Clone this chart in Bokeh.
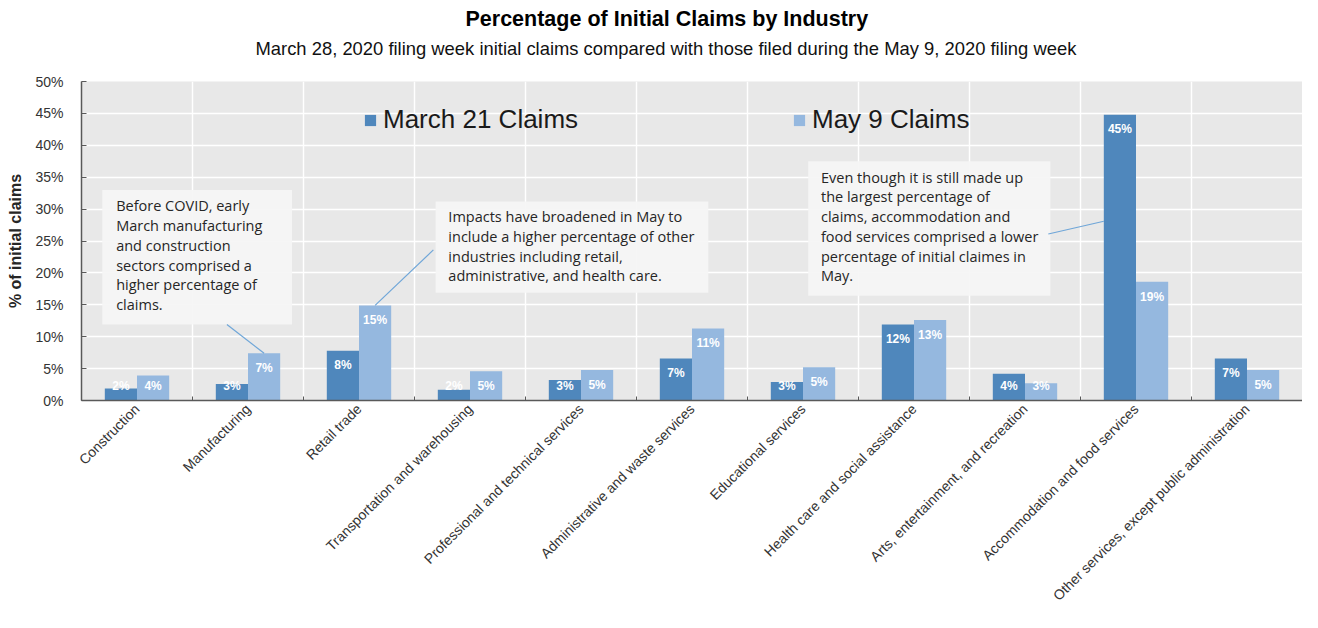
import numpy as np
from bokeh.plotting import figure
from bokeh.models import (ColumnDataSource, Range1d, FixedTicker, PrintfTickFormatter,
                          CustomJSTickFormatter, Title, Legend, LegendItem, BoxAnnotation)
from bokeh.transform import dodge
from bokeh.core.properties import value
from bokeh.embed import file_html
from bokeh.resources import INLINE

# ---------------- data ----------------
categories = [
    "Construction", "Manufacturing", "Retail trade", "Transportation and warehousing",
    "Professional and technical services", "Administrative and waste services",
    "Educational services", "Health care and social assistance",
    "Arts, entertainment, and recreation", "Accommodation and food services",
    "Other services, except public administration",
]
march21 = [1.9, 2.6, 7.8, 1.7, 3.2, 6.6, 2.9, 11.9, 4.2, 44.8, 6.6]
may9 = [3.9, 7.4, 14.9, 4.6, 4.8, 11.3, 5.2, 12.6, 2.7, 18.6, 4.8]
series = ["March 21 Claims", "May 9 Claims"]
y_ticks = [0, 5, 10, 15, 20, 25, 30, 35, 40, 45, 50]

title_text = "Percentage of Initial Claims by Industry"
subtitle_text = ("March 28, 2020 filing week initial claims compared with those filed "
                 "during the May 9, 2020 filing week")
note1 = ("Before COVID, early\nMarch manufacturing\nand construction\n"
         "sectors comprised a\nhigher percentage of\nclaims.")
note2 = ("Impacts have broadened in May to\ninclude a higher percentage of other\n"
         "industries including retail,\nadministrative, and health care.")
note3 = ("Even though it is still made up\nthe largest percentage of\n"
         "claims, accommodation and\nfood services comprised a lower\n"
         "percentage of initial claimes in\nMay.")

# ---------------- styling ----------------
C_MAR = "#4f87bc"
C_MAY = "#95b8df"
FONT = "Liberation Sans"
NOTE_FONT = "Open Sans"
BAR_W = 0.29
OFF = 0.145
LBL_DROP = 2.3  # label offset inside bar top, in % units

idx = np.arange(len(categories))
mar = np.array(march21)
may = np.array(may9)
src = ColumnDataSource(dict(
    x=idx, march=mar, may=may,
    march_lbl=[f"{v:.0f}%" for v in mar], may_lbl=[f"{v:.0f}%" for v in may],
    march_ly=np.maximum(mar - LBL_DROP, LBL_DROP), may_ly=np.maximum(may - LBL_DROP, LBL_DROP),
))

p = figure(width=1302, height=612, x_range=Range1d(-0.5, len(categories) - 0.5),
           y_range=Range1d(0, 50), output_backend="svg", toolbar_location=None,
           background_fill_color="#e8e8e8", border_fill_color="white",
           outline_line_color=None, min_border_left=81, min_border_right=0,
           min_border_top=6, min_border_bottom=0)

p.title.text = title_text
p.title.align = "left"
p.title.offset = 384
p.title.standoff = 8
p.title.text_font = FONT
p.title.text_font_size = "21.5px"
p.title.text_font_style = "bold"
p.title.text_color = "#000000"
# spacer between subtitle and plot area (added first: closest to the frame)
p.add_layout(Title(text=" ", text_font_size="1px", standoff=18), "above")
p.add_layout(Title(text=subtitle_text, align="left", offset=174, standoff=3,
                   text_font=FONT, text_font_size="18.4px", text_font_style="normal",
                   text_color="#111111"), "above")

# bars
r1 = p.vbar(x=dodge("x", -OFF), top="march", width=BAR_W, source=src,
            fill_color=C_MAR, line_color=None)
r2 = p.vbar(x=dodge("x", OFF), top="may", width=BAR_W, source=src,
            fill_color=C_MAY, line_color=None)

# bar labels
for col, ly, off in (("march_lbl", "march_ly", -OFF), ("may_lbl", "may_ly", OFF)):
    p.text(x=dodge("x", off), y=ly, text=col, source=src, text_align="center",
           text_baseline="middle", text_color="white", text_font=value(FONT),
           text_font_size="12px", text_font_style="bold")

# annotation boxes
boxes = [(-0.313, 1.397, 33.0, 11.9), (2.69, 5.147, 31.2, 16.9), (6.047, 8.229, 37.5, 16.4)]
for l, r, t, b in boxes:
    p.add_layout(BoxAnnotation(left=l, right=r, top=t, bottom=b, fill_color="#f5f5f5",
                               fill_alpha=0.92, line_color=None, level="underlay"))

notes = [(-0.188, 32.0, note1), (2.805, 30.3, note2), (6.162, 36.5, note3)]
for nx, ny, nt in notes:
    p.text(x=[nx], y=[ny], text=[nt], text_align="left", text_baseline="top",
           text_color="#262626", text_font=value(NOTE_FONT), text_font_size="14.5px",
           text_line_height=1.04)

# leader lines
p.segment(x0=[0.81, 2 + OFF, 8.21], y0=[11.9, may9[2], 26.1],
          x1=[1 + OFF, 2.67, 9 - OFF - BAR_W / 2], y1=[may9[1], 23.6, 28.1],
          line_color="#6fa6d8", line_width=1.2)

# legend
legend = Legend(items=[LegendItem(label=series[0], renderers=[r1]),
                       LegendItem(label=series[1], renderers=[r2])],
                orientation="horizontal", location=(282, 265),
                background_fill_alpha=0, border_line_alpha=0,
                label_text_font=FONT, label_text_font_size="26px",
                label_text_color="#1a1a1a", glyph_width=14, glyph_height=14,
                label_standoff=6, label_width=200, spacing=209, padding=0, margin=0)
p.add_layout(legend)

# y axis
yax = p.yaxis[0]
yax.ticker = FixedTicker(ticks=y_ticks)
yax.formatter = PrintfTickFormatter(format="%d%%")
yax.axis_label = "% of initial claims"
yax.axis_label_text_font = FONT
yax.axis_label_text_font_size = "16px"
yax.axis_label_text_font_style = "bold"
yax.axis_label_text_color = "#262626"
yax.axis_label_standoff = 8
yax.major_label_text_font = FONT
yax.major_label_text_font_size = "14px"
yax.major_label_text_color = "#333333"
yax.major_label_standoff = 18
yax.major_tick_in = 5
yax.major_tick_out = 0
yax.minor_tick_line_color = None
yax.axis_line_color = "#595959"
yax.axis_line_width = 1.5
yax.major_tick_line_color = "#595959"

# x axis
xax = p.xaxis[0]
bounds = list(np.arange(len(categories) + 1) - 0.5)
xax.ticker = FixedTicker(ticks=list(idx), minor_ticks=bounds)
xax.formatter = CustomJSTickFormatter(args=dict(cats=categories),
                                      code="const i = Math.round(tick); return cats[i] || '';")
xax.major_label_orientation = np.pi / 4
xax.major_label_text_font = FONT
xax.major_label_text_font_size = "14px"
xax.major_label_text_color = "#333333"
xax.major_label_standoff = 6
xax.major_tick_in = 0
xax.major_tick_out = 0
xax.minor_tick_in = 4
xax.minor_tick_out = 0
xax.minor_tick_line_color = "#595959"
xax.axis_line_color = "#595959"
xax.axis_line_width = 1.5

# grids
p.ygrid.grid_line_color = "white"
p.ygrid.grid_line_width = 1.5
p.xgrid.ticker = FixedTicker(ticks=bounds)
p.xgrid.grid_line_color = "white"
p.xgrid.grid_line_width = 1.5

open("out.html", "w").write(file_html(p, INLINE))
